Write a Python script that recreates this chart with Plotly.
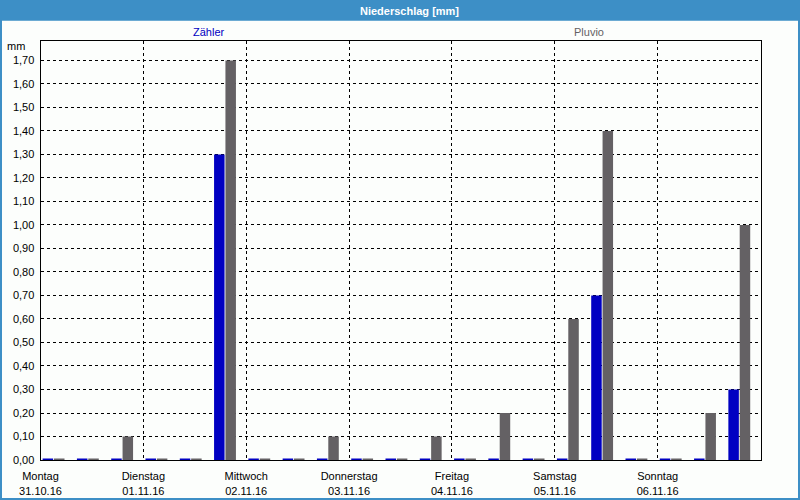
import pandas as pd
import plotly.graph_objects as go

# ---- data ----
slot_start = pd.date_range("2016-10-31 00:00", periods=21, freq="8h")
zaehler = [0.005, 0.005, 0.005, 0.005, 0.005, 1.30, 0.005, 0.005, 0.005, 0.005, 0.005,
           0.005, 0.005, 0.005, 0.005, 0.005, 0.70, 0.005, 0.005, 0.005, 0.30]
pluvio = [0.005, 0.005, 0.10, 0.005, 0.005, 1.70, 0.005, 0.005, 0.10, 0.005, 0.005,
          0.10, 0.005, 0.20, 0.005, 0.60, 1.40, 0.005, 0.005, 0.20, 1.00]
day_ticks = pd.date_range("2016-10-31", periods=7, freq="D")
day_names = ["Montag", "Dienstag", "Mittwoch", "Donnerstag", "Freitag", "Samstag", "Sonntag"]
day_dates = ["31.10.16", "01.11.16", "02.11.16", "03.11.16", "04.11.16", "05.11.16", "06.11.16"]
series_names = ["Zähler", "Pluvio"]

BLUE = "#0000c2"
GRAY = "#646164"
BAR_BLUE = "#3d8fc6"
H = 3600 * 1000  # ms per hour

W, HT = 800, 500
x0p, x1p = 40.5, 760.5
ytop, ybot = 40.5, 460.0

fig = go.Figure()
fig.add_trace(go.Bar(x=slot_start, y=zaehler, name=series_names[0], marker_color=BLUE,
                     marker_line_width=0, offset=0.5 * H, width=2.45 * H))
fig.add_trace(go.Bar(x=slot_start, y=pluvio, name=series_names[1], marker_color=GRAY,
                     marker_line_width=0, offset=3.15 * H, width=2.45 * H))

fig.update_layout(
    width=W, height=HT, margin=dict(l=0, r=0, t=0, b=0),
    paper_bgcolor="#fcfefc", plot_bgcolor="#fcfefc",
    barmode="overlay", showlegend=False, separators=",.",
    font=dict(family="Liberation Sans", size=11, color="black"),
    xaxis=dict(
        domain=[x0p / W, x1p / W], type="date", automargin=False,
        range=["2016-10-31", "2016-11-07"],
        tickvals=day_ticks, ticktext=[f"{n}<br>{d}" for n, d in zip(day_names, day_dates)],
        showgrid=True, gridcolor="black", gridwidth=1, griddash="3px,3px",
        showline=True, linecolor="black", linewidth=1, mirror=True, ticks="",
        zeroline=False, ticklabelstandoff=6,
    ),
    yaxis=dict(
        domain=[(HT - ybot) / HT, (HT - ytop) / HT], automargin=False,
        range=[0, 1.785], tick0=0, dtick=0.1, tickformat=".2f",
        showgrid=True, gridcolor="black", gridwidth=1, griddash="3px,3px",
        showline=True, linecolor="black", linewidth=1, mirror=True, ticks="",
        zeroline=False, ticklabelstandoff=3,
    ),
    shapes=[
        dict(type="rect", xref="paper", yref="paper", x0=0, x1=1, y0=(HT - 20.7) / HT, y1=1,
             fillcolor=BAR_BLUE, line_width=0, layer="above"),
        dict(type="rect", xref="paper", yref="paper", x0=1 / W, x1=(W - 1) / W,
             y0=1 / HT, y1=(HT - 1) / HT, line=dict(color=BAR_BLUE, width=2), layer="above"),
    ],
    annotations=[
        dict(text="<b>Niederschlag [mm]</b>", xref="paper", yref="paper", x=409 / W,
             y=(HT - 10.5) / HT, showarrow=False, xanchor="center", yanchor="middle",
             font=dict(color="white", size=11, family="Liberation Sans")),
        dict(text=series_names[0], xref="paper", yref="paper", x=209 / W, y=(HT - 32.3) / HT,
             showarrow=False, xanchor="center", yanchor="middle", font=dict(color=BLUE, size=11)),
        dict(text=series_names[1], xref="paper", yref="paper", x=589 / W, y=(HT - 32.3) / HT,
             showarrow=False, xanchor="center", yanchor="middle", font=dict(color=GRAY, size=11)),
        dict(text="mm", xref="paper", yref="paper", x=27 / W, y=(HT - 46) / HT,
             showarrow=False, xanchor="right", yanchor="middle", font=dict(size=11)),
    ],
)

fig.write_html("out.html")
